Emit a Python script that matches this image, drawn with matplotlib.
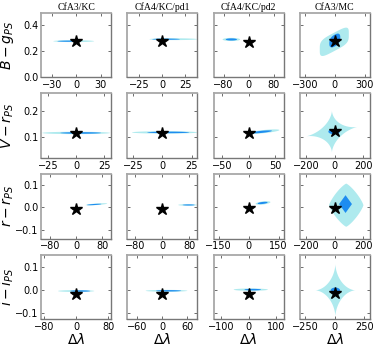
import numpy as np
import matplotlib
matplotlib.use("Agg")
import matplotlib.pyplot as plt
from matplotlib.patches import Polygon

# data
columns = ['CfA3/KC', 'CfA4/KC/pd1', 'CfA4/KC/pd2', 'CfA3/MC']
ylabels = [r'$B-g_{PS}$', r'$V-r_{PS}$', r'$r-r_{PS}$', r'$i-i_{PS}$']

ylims = [(0.0, 0.49), (0.02, 0.265), (-0.14, 0.15), (-0.125, 0.155)]
yticks = [[0.0, 0.2, 0.4], [0.1, 0.2], [-0.1, 0.0, 0.1], [-0.1, 0.0, 0.1]]

xhalf = [[43, 38, 112, 350],
         [31, 30, 66, 245],
         [107, 104, 175, 245],
         [87, 84, 127, 297]]
xtick_step = [[30, 25, 80, 300],
              [25, 25, 50, 200],
              [80, 80, 150, 200],
              [80, 60, 100, 250]]

star_y = [[0.275, 0.28, 0.27, 0.277],
          [0.113, 0.115, 0.113, 0.123],
          [-0.007, -0.007, -0.003, -0.002],
          [-0.015, -0.015, -0.015, -0.012]]

# posterior regions: (x0, y0, a, b, slope, shape exponent, level)
blobs = {
    (0, 0): [(-3, 0.275, 25, 0.007, 0, 2, 0), (-9, 0.275, 14, 0.0045, 0, 2, 1)],
    (0, 1): [(12, 0.29, 26, 0.007, 0, 2, 0), (4, 0.29, 15, 0.0045, 0, 2, 1)],
    (0, 2): [(-55, 0.288, 28, 0.012, 0, 2, 0), (-55, 0.288, 18, 0.008, 0, 2, 1)],
    (0, 3): [(-5, 0.27, 145, 0.07, 0.0004, 4, 0), (0, 0.28, 55, 0.045, 0.0004, 2.5, 1)],
    (1, 0): [(0, 0.115, 30, 0.0045, 0, 2, 0), (4, 0.115, 18, 0.003, 0, 2, 1)],
    (1, 1): [(2, 0.117, 28, 0.0045, 0, 2, 0), (5, 0.117, 18, 0.003, 0, 2, 1)],
    (1, 2): [(28, 0.12, 30, 0.006, 0.0002, 2, 0), (24, 0.119, 20, 0.004, 0.0002, 2, 1)],
    (1, 3): [(-20, 0.12, 180, 0.08, 0.0001, 0.6, 0), (-10, 0.12, 70, 0.03, 0.0001, 2, 0),
             (-5, 0.12, 40, 0.01, 0, 2, 1)],
    (2, 0): [(62, 0.014, 33, 0.0035, 0.0001, 2, 0), (55, 0.013, 22, 0.0025, 0.0001, 2, 1)],
    (2, 1): [(75, 0.011, 28, 0.0035, 0, 2, 0), (78, 0.011, 18, 0.0025, 0, 2, 1)],
    (2, 2): [(72, 0.02, 37, 0.007, 0.0001, 2, 0), (70, 0.02, 25, 0.0045, 0.0001, 2, 1)],
    (2, 3): [(80, 0.01, 120, 0.097, 0, 1.25, 0), (75, 0.015, 45, 0.04, 0, 1, 1)],
    (3, 0): [(0, -0.003, 45, 0.004, 0, 2, 0), (10, -0.003, 25, 0.003, 0, 2, 1)],
    (3, 1): [(10, -0.002, 50, 0.004, 0, 2, 0), (15, -0.002, 30, 0.003, 0, 2, 1)],
    (3, 2): [(8, 0.003, 62, 0.005, 0, 2, 0), (15, 0.003, 30, 0.0035, 0, 2, 1)],
    (3, 3): [(5, 0.0, 170, 0.115, 0, 0.6, 0), (0, -0.002, 75, 0.035, 0, 2, 0),
             (5, 0.0, 40, 0.012, 0, 2, 1)],
}
level_colors = ['#aeeaee', '#1e8cf0']


def blob_polygon(x0, y0, a, b, slope, n):
    t = np.linspace(0, 2 * np.pi, 200)
    c, s = np.cos(t), np.sin(t)
    dx = a * np.sign(c) * np.abs(c) ** (2.0 / n)
    dy = b * np.sign(s) * np.abs(s) ** (2.0 / n)
    return np.column_stack([x0 + dx, y0 + dy + slope * dx])


fig, axes = plt.subplots(4, 4, figsize=(3.77, 3.48), dpi=100, sharey='row')
fig.subplots_adjust(left=0.109, right=0.981, top=0.963, bottom=0.083,
                    wspace=0.23, hspace=0.25)

for i in range(4):
    for j in range(4):
        ax = axes[i, j]
        for (x0, y0, a, b, slope, n, lev) in blobs[(i, j)]:
            ax.add_patch(Polygon(blob_polygon(x0, y0, a, b, slope, n),
                                 closed=True, facecolor=level_colors[lev],
                                 edgecolor='none', zorder=1 + lev))
        ax.plot(0, star_y[i][j], marker='*', color='k', markersize=9,
                linestyle='none', zorder=5)
        h = xhalf[i][j]
        st = xtick_step[i][j]
        ax.set_xlim(-h, h)
        ax.set_xticks([-st, 0, st])
        ax.set_ylim(*ylims[i])
        ax.set_yticks(yticks[i])
        ax.tick_params(direction='in', length=2.5, width=0.6, labelsize=7,
                       top=True, right=True, colors='#555555', labelcolor='k',
                       pad=2)
        for side in ['top', 'left']:
            ax.spines[side].set_color('#a8a8a8')
            ax.spines[side].set_linewidth(1.3)
        for side in ['bottom', 'right']:
            ax.spines[side].set_color('#777777')
            ax.spines[side].set_linewidth(1.0)
        if i == 0:
            ax.set_title(columns[j], fontsize=7, family='Liberation Serif', pad=2)
        if j == 0:
            ax.set_ylabel(ylabels[i], fontsize=10)
            ax.yaxis.set_label_coords(-0.36, 0.5)
        if i == 3:
            ax.set_xlabel(r'$\Delta\lambda$', fontsize=10, labelpad=0)

fig.savefig('out.png', dpi=100)
